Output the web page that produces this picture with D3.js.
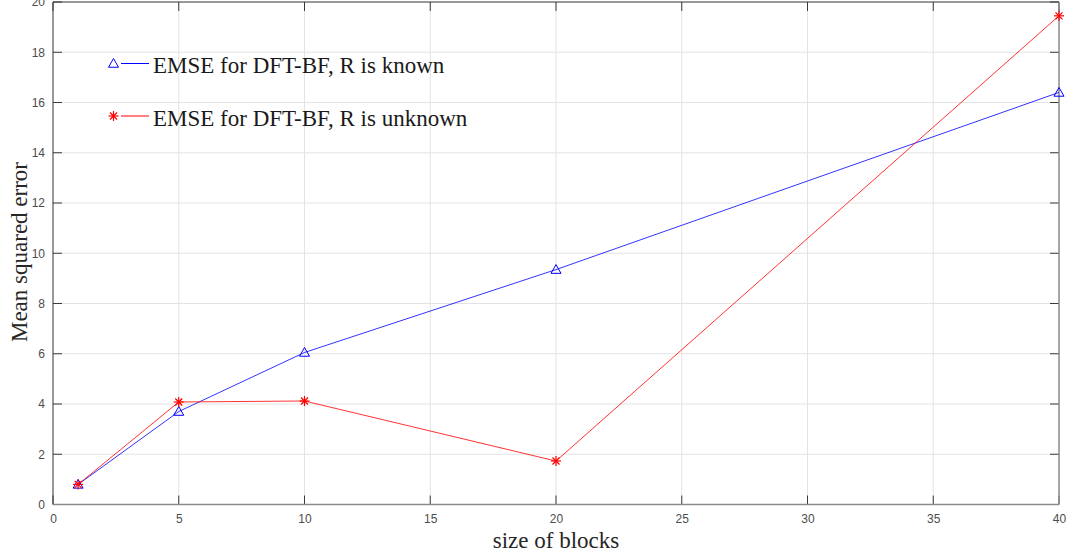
<!DOCTYPE html>
<html>
<head>
<meta charset="utf-8">
<script src="https://cdn.jsdelivr.net/npm/d3@7"></script>
<style>
  html, body { margin: 0; padding: 0; background: #fff; }
  svg { display: block; }
</style>
</head>
<body>
<svg id="chart" width="1081" height="560"></svg>
<script>
// Block sizes and the mean squared error for each estimator
const blockSizes = [1, 5, 10, 20, 40];
const emseKnown = [0.8, 3.7, 6.05, 9.35, 16.4];
const emseUnknown = [0.8, 4.08, 4.12, 1.73, 19.45];
const xTicks = [0, 5, 10, 15, 20, 25, 30, 35, 40];
const yTicks = [0, 2, 4, 6, 8, 10, 12, 14, 16, 18, 20];
const seriesNames = ["EMSE for DFT-BF, R is known", "EMSE for DFT-BF, R is unknown"];

(function () {
const svg = d3.select("#chart");
const pLeft = 53, pRight = 1059, pTop = 2, pBottom = 504.5;

const x = d3.scaleLinear().domain([0, 40]).range([pLeft, pRight]);
const y = d3.scaleLinear().domain([0, 20]).range([pBottom, pTop]);

// grid
const grid = svg.append("g").attr("stroke", "#e3e3e3").attr("stroke-width", 1);
xTicks.slice(1, -1).forEach(t => grid.append("line")
  .attr("x1", x(t)).attr("x2", x(t)).attr("y1", pTop).attr("y2", pBottom));
yTicks.slice(1, -1).forEach(t => grid.append("line")
  .attr("y1", y(t)).attr("y2", y(t)).attr("x1", pLeft).attr("x2", pRight));

// axes with tick labels
const tickFont = "'Liberation Sans', Arial, sans-serif";
const xAxis = svg.append("g").attr("transform", `translate(0,${pBottom})`)
  .call(d3.axisBottom(x).tickValues(xTicks).tickSize(0).tickPadding(10));
const yAxis = svg.append("g").attr("transform", `translate(${pLeft},0)`)
  .call(d3.axisLeft(y).tickValues(yTicks).tickSize(0).tickPadding(8));
[xAxis, yAxis].forEach(a => {
  a.select(".domain").remove();
  a.selectAll("text").attr("font-family", tickFont).attr("font-size", 12).attr("fill", "#4d4d4d");
});

// tick marks on all four sides, pointing inward
const tl = 9;
const ticks = svg.append("g").attr("stroke", "#3a3a3a").attr("stroke-width", 1);
xTicks.forEach(t => {
  ticks.append("line").attr("x1", x(t)).attr("x2", x(t)).attr("y1", pBottom).attr("y2", pBottom - tl);
  ticks.append("line").attr("x1", x(t)).attr("x2", x(t)).attr("y1", pTop).attr("y2", pTop + tl);
});
yTicks.forEach(t => {
  ticks.append("line").attr("x1", pLeft).attr("x2", pLeft + tl).attr("y1", y(t)).attr("y2", y(t));
  ticks.append("line").attr("x1", pRight).attr("x2", pRight - tl).attr("y1", y(t)).attr("y2", y(t));
});

// box
svg.append("line").attr("x1", pLeft).attr("x2", pRight).attr("y1", pTop).attr("y2", pTop).attr("stroke", "#333");
svg.append("line").attr("x1", pLeft).attr("x2", pLeft).attr("y1", pTop).attr("y2", pBottom).attr("stroke", "#333");
svg.append("line").attr("x1", pLeft).attr("x2", pRight).attr("y1", pBottom).attr("y2", pBottom).attr("stroke", "#8a8a8a").attr("stroke-width", 1.5);
svg.append("line").attr("x1", pRight).attr("x2", pRight).attr("y1", pTop).attr("y2", pBottom).attr("stroke", "#8a8a8a").attr("stroke-width", 1.5);

// markers
function triangle(g, cx, cy, color) {
  const s = 5;
  g.append("path")
    .attr("d", `M${cx},${cy - s} L${cx + s},${cy + s * 0.75} L${cx - s},${cy + s * 0.75} Z`)
    .attr("fill", "none").attr("stroke", color).attr("stroke-width", 1);
}
function star(g, cx, cy, color) {
  const s = 5;
  const p = g.append("g").attr("stroke", color).attr("stroke-width", 1.2);
  p.append("line").attr("x1", cx - s).attr("x2", cx + s).attr("y1", cy).attr("y2", cy);
  p.append("line").attr("x1", cx).attr("x2", cx).attr("y1", cy - s).attr("y2", cy + s);
  p.append("line").attr("x1", cx - s * 0.7).attr("x2", cx + s * 0.7).attr("y1", cy - s * 0.7).attr("y2", cy + s * 0.7);
  p.append("line").attr("x1", cx - s * 0.7).attr("x2", cx + s * 0.7).attr("y1", cy + s * 0.7).attr("y2", cy - s * 0.7);
}

const line = d3.line().x(d => x(d[0])).y(d => y(d[1]));
const series = [
  { values: emseKnown, color: "#0000ff", marker: triangle },
  { values: emseUnknown, color: "#ff0000", marker: star }
];
const plot = svg.append("g");
series.forEach(s => {
  const pts = blockSizes.map((b, i) => [b, s.values[i]]);
  plot.append("path").datum(pts).attr("d", line)
    .attr("fill", "none").attr("stroke", s.color).attr("stroke-width", 1).attr("stroke-opacity", 0.8);
  pts.forEach(p => s.marker(plot, x(p[0]), y(p[1]), s.color));
});

// legend
const serif = "'Liberation Serif', 'Times New Roman', serif";
const legend = svg.append("g");
series.forEach((s, i) => {
  const ly = 63.5 + i * 52.5;
  s.marker(legend, 113.5, ly, s.color);
  legend.append("line").attr("x1", 121).attr("x2", 149).attr("y1", ly).attr("y2", ly)
    .attr("stroke", s.color).attr("stroke-width", 1);
  legend.append("text").attr("x", 153).attr("y", ly + 9.5)
    .attr("font-family", serif).attr("font-size", 23).attr("fill", "#1a1a1a")
    .text(seriesNames[i]);
});

// axis titles
svg.append("text").attr("x", (pLeft + pRight) / 2).attr("y", 548).attr("text-anchor", "middle")
  .attr("font-family", serif).attr("font-size", 23).attr("fill", "#262626").text("size of blocks");
svg.append("text").attr("transform", `translate(27,252) rotate(-90)`)
  .attr("text-anchor", "middle")
  .attr("font-family", serif).attr("font-size", 23).attr("fill", "#262626").text("Mean squared error");
})();
</script>
</body>
</html>
